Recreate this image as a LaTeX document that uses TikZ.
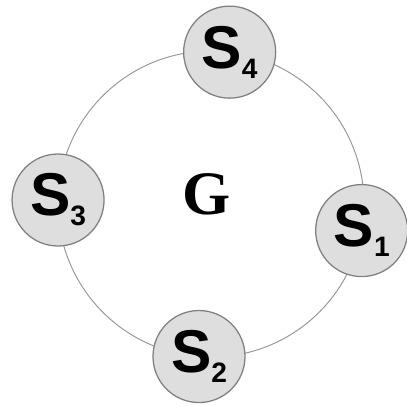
\documentclass[tikz,border=0pt]{standalone}
\usepackage{fontspec}
\setsansfont{Liberation Sans}
\newfontfamily\gfont{Liberation Serif}
\usepackage{tikz}
\newcommand{\sitelabel}[1]{{\sffamily\bfseries\fontsize{43}{43}\selectfont S}\raisebox{-0.25cm}{\sffamily\bfseries\fontsize{20}{20}\selectfont #1}}

\begin{document}
\begin{tikzpicture}[
  site/.style={circle,draw=black!50,line width=0.9pt,fill=black!13,minimum size=2.3cm,inner sep=0pt},
  ring/.style={draw=black!40,line width=0.7pt}
]
\useasboundingbox (-5.275,-5.025) rectangle (4.9,5.1);
\coordinate (c) at (0,0);
\draw[ring] (c) circle (3.825);

\node[site] (s1) at (-10:3.825) {\sitelabel{1}};
\node[site] (s2) at (265.5:3.825) {\sitelabel{2}};
\node[site] (s3) at (178.5:3.825) {\sitelabel{3}};
\node[site] (s4) at (83:3.825) {\sitelabel{4}};

\node[font=\gfont\bfseries\fontsize{44}{44}\selectfont] (g) at (-0.1,0.25) {G};
\end{tikzpicture}
\end{document}
